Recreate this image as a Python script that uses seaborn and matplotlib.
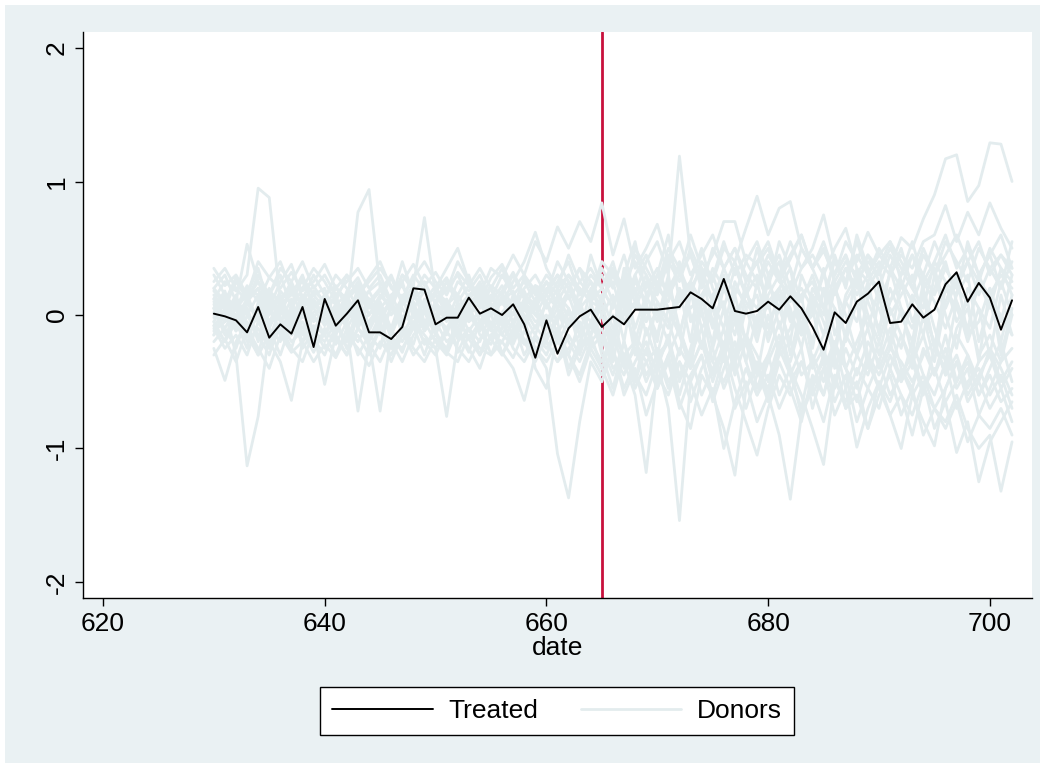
import matplotlib
matplotlib.use("Agg")
import matplotlib.pyplot as plt
from matplotlib.lines import Line2D
from matplotlib.patches import Rectangle
import numpy as np
import pandas as pd
import seaborn as sns

sns.set_theme(style="white")
plt.rcParams['font.family'] = ['Liberation Sans', 'DejaVu Sans']
plt.rcParams['axes.unicode_minus'] = False
plt.rcParams['text.color'] = 'black'
plt.rcParams['axes.labelcolor'] = 'black'
plt.rcParams['xtick.color'] = 'black'
plt.rcParams['ytick.color'] = 'black'

dates = list(range(630, 703))
treatment_date = 665

treated = [
    0.01, -0.01, -0.04, -0.13, 0.06, -0.17, -0.07, -0.14, 0.06, -0.24,
    0.12, -0.08, 0.01, 0.11, -0.13, -0.13, -0.18, -0.09, 0.20, 0.19,
    -0.07, -0.02, -0.02, 0.13, 0.01, 0.05, 0.00, 0.08, -0.07, -0.32,
    -0.04, -0.29, -0.10, -0.01, 0.04, -0.09, -0.01, -0.07, 0.04, 0.04,
    0.04, 0.05, 0.06, 0.17, 0.12, 0.05, 0.27, 0.03, 0.01, 0.03,
    0.10, 0.04, 0.14, 0.05, -0.09, -0.26, 0.02, -0.06, 0.10, 0.16,
    0.25, -0.06, -0.05, 0.08, -0.02, 0.04, 0.23, 0.32, 0.10, 0.24,
    0.13, -0.11, 0.11,
]

donors = [
    [0.12, 0.25, 0.18, 0.30, 0.95, 0.88, 0.10, 0.22, 0.05, 0.15,
     0.20, -0.05, 0.18, 0.28, 0.10, -0.08, 0.15, 0.22, 0.05, 0.18,
     0.10, 0.25, 0.08, -0.05, 0.20, 0.12, 0.30, 0.15, 0.05, 0.22,
     0.18, 0.30, 0.12, 0.25, 0.35, 0.20, 0.40, 0.10, 0.30, 0.45,
     0.22, 0.50, 0.35, 0.15, 0.40, 0.28, 0.55, 0.30, 0.45, 0.38,
     0.50, 0.25, 0.42, 0.60, 0.35, 0.48, 0.30, 0.55, 0.40, 0.62,
     0.45, 0.35, 0.58, 0.50, 0.72, 0.90, 1.17, 1.20, 0.85, 0.97,
     1.29, 1.28, 1.00],
    [-0.15, 0.05, -0.30, -1.13, -0.76, -0.10, -0.20, 0.08, -0.25, -0.12,
     0.05, -0.18, -0.30, 0.02, -0.15, -0.25, 0.10, -0.08, -0.22, 0.05,
     -0.12, -0.28, 0.00, -0.18, -0.05, -0.30, -0.10, 0.08, -0.20, -0.35,
     -0.15, -0.05, -0.40, -0.20, 0.05, -0.30, -0.55, -0.20, -0.45, -0.60,
     -0.35, -0.70, -1.54, -0.50, -0.30, -0.65, -0.40, -0.20, -0.55, -0.35,
     -0.60, -0.25, -0.45, -0.70, -0.30, -0.50, -0.20, -0.40, -0.65, -0.35,
     -0.55, -0.30, -0.50, -0.20, -0.45, -0.60, -0.35, -0.70, -0.50, -0.40,
     -0.60, -0.45, -0.70],
    [0.20, 0.10, 0.28, 0.15, 0.35, 0.05, 0.25, 0.38, 0.12, 0.30,
     0.15, 0.22, 0.05, 0.77, 0.94, 0.20, 0.10, 0.30, 0.18, 0.25,
     0.08, 0.20, 0.30, 0.12, 0.25, 0.05, 0.18, 0.32, 0.15, 0.08,
     0.25, 0.15, 0.30, 0.20, 0.10, 0.35, 0.20, 0.45, 0.15, 0.40,
     0.55, 0.30, 1.19, 0.45, 0.20, 0.50, 0.35, 0.15, 0.40, 0.55,
     0.30, 0.45, 0.20, 0.50, 0.35, 0.15, 0.40, 0.25, 0.55, 0.30,
     0.20, 0.45, 0.30, 0.55, 0.25, 0.40, 0.60, 0.35, 0.50, 0.30,
     0.45, 0.60, 0.35],
    [-0.05, -0.20, 0.10, -0.15, -0.30, 0.05, -0.12, -0.25, 0.02, -0.18,
     -0.30, -0.08, -0.20, 0.05, -0.25, -0.10, -0.35, -0.15, 0.00, -0.22,
     -0.15, 0.05, -0.28, -0.10, -0.20, 0.02, -0.30, -0.15, -0.05, -0.25,
     -0.40, -1.04, -1.37, -0.80, -0.35, -0.50, -0.25, -0.60, -0.40, -0.75,
     -0.50, -0.30, -0.65, -0.85, -0.45, -0.60, -0.30, -0.70, -0.50, -0.80,
     -0.60, -0.90, -1.38, -0.75, -0.55, -0.80, -0.45, -0.70, -0.60, -0.85,
     -0.50, -0.75, -0.60, -0.90, -0.55, -0.70, -0.85, -0.65, -0.95, -0.75,
     -0.85, -0.70, -0.90],
    [0.30, 0.15, 0.05, 0.22, 0.10, 0.28, 0.40, 0.18, 0.25, 0.08,
     0.12, 0.30, 0.20, 0.05, 0.18, 0.25, 0.10, 0.30, 0.22, 0.73,
     0.15, 0.05, 0.25, 0.18, 0.30, 0.10, 0.22, 0.05, 0.28, 0.15,
     0.30, 0.20, 0.45, 0.25, 0.15, 0.40, 0.30, 0.10, 0.50, 0.35,
     0.20, 0.45, 0.30, 0.60, 0.35, 0.25, 0.50, 0.40, 0.65, 0.89,
     0.60, 0.80, 0.85, 0.50, 0.35, 0.55, 0.30, 0.45, 0.25, 0.40,
     0.30, 0.50, 0.35, 0.20, 0.45, 0.30, 0.55, 0.40, 0.25, 0.50,
     0.35, 0.45, 0.30],
    [-0.20, -0.10, -0.25, 0.00, -0.15, -0.30, -0.05, -0.20, -0.12, -0.28,
     -0.10, -0.22, -0.05, -0.30, -0.15, -0.08, -0.25, -0.12, -0.30, -0.18,
     -0.25, -0.76, -0.20, -0.10, -0.30, -0.15, -0.05, -0.25, -0.35, -0.18,
     -0.30, -0.10, -0.45, -0.25, -0.15, -0.40, -0.60, -0.30, -0.50, -0.25,
     -0.55, -0.35, -0.70, -0.45, -0.30, -0.60, -0.85, -1.20, -0.55, -0.40,
     -0.65, -0.35, -0.55, -0.80, -0.45, -0.60, -0.30, -0.70, -0.50, -0.85,
     -0.60, -0.45, -0.75, -0.55, -0.90, -0.70, -0.80, -0.60, -0.85, -1.00,
     -0.90, -1.32, -0.95],
    [0.05, -0.15, -0.05, -0.25, 0.10, -0.10, -0.30, -0.05, -0.20, 0.00,
     -0.15, -0.30, -0.10, -0.72, -0.20, -0.05, -0.25, -0.15, -0.08, -0.30,
     -0.05, -0.20, -0.12, -0.28, -0.05, -0.18, -0.30, -0.10, -0.22, -0.08,
     -0.20, -0.35, -0.15, -0.30, -0.05, -0.25, -0.45, -0.20, -0.55, -0.35,
     -0.25, -0.50, -0.35, -0.65, -0.40, -0.25, -0.55, -0.35, -0.70, -0.45,
     -0.30, -0.60, -0.40, -0.75, -0.50, -0.35, -0.65, -0.45, -0.80, -0.55,
     -0.70, -0.40, -0.60, -0.75, -0.50, -0.85, -0.65, -1.03, -0.80, -1.25,
     -0.95, -0.80, -0.65],
    [0.10, 0.00, 0.15, -0.10, 0.05, 0.20, -0.05, 0.12, -0.15, 0.08,
     0.00, 0.15, -0.10, 0.05, -0.20, -0.72, -0.15, 0.05, -0.10, 0.12,
     -0.05, 0.10, -0.15, 0.05, -0.10, 0.15, -0.05, -0.20, 0.05, -0.10,
     0.10, -0.15, 0.05, -0.25, 0.10, -0.20, 0.00, -0.35, -0.60, -1.18,
     -0.40, -0.15, -0.50, -0.25, 0.05, -0.35, -0.10, -0.45, -0.20, -0.55,
     -0.30, -0.05, -0.40, -0.60, -0.85, -1.12, -0.50, -0.25, -0.45, -0.20,
     -0.35, -0.10, -0.40, -0.55, -0.25, -0.45, -0.15, -0.50, -0.30, -0.60,
     -0.40, -0.20, -0.50],
    [0.25, 0.35, 0.20, 0.10, 0.30, 0.15, 0.35, 0.25, 0.40, 0.20,
     0.30, 0.15, 0.25, 0.35, 0.20, 0.30, 0.10, 0.25, 0.38, 0.22,
     0.32, 0.18, 0.40, 0.25, 0.15, 0.35, 0.28, 0.45, 0.30, 0.55,
     0.40, 0.66, 0.50, 0.70, 0.55, 0.84, 0.45, 0.72, 0.35, 0.50,
     0.68, 0.40, 0.55, 0.30, 0.45, 0.60, 0.35, 0.50, 0.25, 0.40,
     0.55, 0.30, 0.45, 0.60, 0.35, 0.50, 0.25, 0.40, 0.30, 0.45,
     0.35, 0.55, 0.40, 0.25, 0.50, 0.30, 0.45, 0.60, 0.40, 0.55,
     0.30, 0.45, 0.35],
    [-0.10, -0.25, -0.15, -0.30, -0.05, -0.20, -0.35, -0.64, -0.20, -0.10,
     -0.25, -0.15, -0.30, -0.10, -0.22, -0.35, -0.15, -0.28, -0.05, -0.20,
     -0.30, -0.12, -0.25, -0.35, -0.18, -0.08, -0.28, -0.40, -0.64, -0.30,
     -0.20, -0.35, -0.25, -0.15, -0.30, -0.45, -0.25, -0.55, -0.35, -0.20,
     -0.45, -0.60, -0.35, -0.50, -0.75, -0.55, -1.00, -0.65, -0.40, -0.60,
     -0.45, -0.70, -0.50, -0.35, -0.60, -0.40, -0.75, -0.55, -0.99, -0.70,
     -0.50, -0.65, -0.40, -0.60, -0.45, -0.70, -0.55, -0.35, -0.65, -0.50,
     -0.70, -0.55, -0.80],
    [0.05, 0.18, -0.10, 0.10, -0.05, 0.15, 0.00, 0.20, 0.08, -0.12,
     -0.52, -0.15, 0.05, -0.08, 0.12, 0.00, -0.15, 0.10, 0.02, -0.10,
     0.08, -0.05, 0.15, 0.00, -0.12, 0.05, 0.18, -0.08, 0.10, 0.00,
     -0.10, 0.15, 0.05, -0.15, 0.20, 0.00, -0.20, 0.25, -0.10, 0.15,
     -0.05, 0.30, -0.15, 0.20, -0.25, 0.10, -0.35, 0.05, -0.20, 0.25,
     -0.10, 0.15, -0.30, 0.05, -0.20, 0.20, -0.40, -0.15, 0.10, -0.30,
     -0.55, -0.75, -1.00, -0.60, -0.80, -0.98, -0.55, -0.35, -0.60, -0.45,
     -0.30, -0.55, -0.40],
    [-0.25, -0.49, -0.20, -0.05, -0.30, -0.15, -0.08, -0.25, -0.35, -0.12,
     -0.20, -0.05, -0.25, -0.15, -0.30, -0.10, -0.20, -0.35, -0.15, -0.05,
     -0.20, -0.30, -0.10, -0.25, -0.40, -0.15, -0.20, -0.05, -0.30, -0.15,
     -0.25, -0.10, -0.30, -0.45, -0.20, -0.35, -0.15, -0.40, -0.25, -0.50,
     -0.30, -0.20, -0.45, -0.30, -0.60, -0.40, -0.25, -0.55, -0.80, -1.05,
     -0.70, -0.45, -0.60, -0.35, -0.55, -0.30, -0.50, -0.65, -0.40, -0.55,
     -0.35, -0.60, -0.45, -0.30, -0.55, -0.40, -0.65, -0.50, -0.35, -0.60,
     -0.45, -0.65, -0.55],
    [0.15, 0.05, 0.25, 0.12, 0.20, 0.00, 0.18, 0.08, 0.28, 0.15,
     0.05, 0.20, 0.12, 0.25, 0.08, 0.18, 0.30, 0.10, 0.22, 0.05,
     0.18, 0.28, 0.10, 0.22, 0.35, 0.20, 0.08, 0.25, 0.40, 0.62,
     0.35, 0.20, 0.30, 0.15, 0.25, 0.10, 0.35, 0.20, 0.45, 0.30,
     0.15, 0.40, 0.25, 0.50, 0.30, 0.45, 0.70, 0.70, 0.40, 0.25,
     0.45, 0.30, 0.55, 0.35, 0.50, 0.75, 0.40, 0.25, 0.45, 0.30,
     0.50, 0.35, 0.20, 0.45, 0.30, 0.55, 0.35, 0.20, 0.40, 0.25,
     0.50, 0.35, 0.25],
    [0.00, 0.12, 0.05, 0.20, 0.15, -0.05, 0.10, 0.25, 0.05, 0.18,
     0.10, 0.00, 0.15, 0.22, 0.05, 0.12, 0.28, 0.08, 0.15, 0.30,
     0.20, 0.35, 0.50, 0.25, 0.10, 0.22, 0.15, 0.30, 0.12, 0.05,
     0.20, 0.10, 0.25, 0.05, 0.15, 0.30, 0.10, 0.25, 0.40, 0.20,
     0.35, 0.15, 0.30, 0.45, 0.25, 0.10, 0.35, 0.50, 0.30, 0.20,
     0.40, 0.25, 0.15, 0.35, 0.45, 0.30, 0.50, 0.65, 0.35, 0.25,
     0.40, 0.30, 0.45, 0.35, 0.55, 0.60, 0.82, 0.55, 0.77, 0.60,
     0.84, 0.65, 0.50],
    [0.20, 0.30, 0.10, 0.53, 0.25, 0.15, 0.30, 0.05, 0.20, 0.35,
     0.25, 0.10, 0.30, 0.15, 0.28, 0.40, 0.20, 0.12, 0.30, 0.18,
     0.10, 0.25, 0.15, 0.30, 0.05, 0.20, 0.35, 0.15, 0.25, 0.10,
     0.15, 0.30, 0.20, 0.35, 0.25, 0.10, 0.30, 0.15, 0.05, 0.25,
     0.10, -0.05, 0.20, 0.05, 0.15, -0.10, 0.20, 0.00, 0.15, 0.30,
     0.10, 0.20, -0.05, 0.15, 0.25, 0.05, 0.20, 0.35, 0.15, 0.30,
     0.45, 0.55, 0.25, 0.10, 0.30, 0.15, 0.35, 0.20, 0.10, 0.25,
     0.15, 0.30, 0.20],
    [-0.08, 0.02, -0.12, 0.05, -0.18, 0.10, -0.02, -0.15, 0.08, -0.05,
     0.02, -0.10, 0.08, -0.05, 0.12, -0.15, 0.05, -0.08, 0.10, -0.12,
     0.00, -0.10, 0.05, 0.15, -0.05, 0.08, -0.15, 0.02, -0.08, 0.10,
     -0.05, 0.12, -0.10, 0.05, -0.15, 0.10, -0.25, 0.15, -0.30, 0.05,
     -0.20, 0.25, -0.10, -0.35, 0.15, -0.25, 0.05, -0.40, 0.20, -0.15,
     0.10, -0.30, 0.20, -0.15, 0.05, -0.35, 0.25, -0.20, 0.10, -0.40,
     0.15, -0.25, 0.05, -0.30, 0.20, -0.10, -0.35, 0.10, -0.20, 0.05,
     -0.30, 0.15, -0.15],
    [0.18, 0.08, -0.02, 0.12, 0.25, 0.05, 0.15, -0.05, 0.10, 0.22,
     0.08, -0.05, 0.12, 0.20, 0.00, 0.15, 0.05, 0.25, -0.02, 0.10,
     0.22, 0.05, -0.05, 0.12, 0.20, 0.00, 0.10, 0.18, -0.05, 0.12,
     0.25, 0.05, 0.18, 0.35, 0.10, 0.20, 0.05, 0.30, 0.10, -0.05,
     0.25, 0.05, -0.15, 0.20, 0.35, 0.10, -0.10, 0.25, 0.05, -0.20,
     0.15, 0.30, 0.00, -0.15, 0.20, 0.05, -0.25, 0.15, 0.30, 0.00,
     -0.20, 0.10, 0.25, -0.05, 0.15, -0.25, 0.20, 0.05, -0.15, 0.30,
     0.10, -0.20, 0.15],
    [-0.12, -0.05, 0.05, -0.20, -0.10, -0.25, 0.08, -0.15, -0.05, -0.22,
     -0.15, 0.05, -0.10, -0.20, -0.05, 0.08, -0.18, -0.25, -0.10, 0.02,
     -0.15, -0.25, -0.05, 0.08, -0.15, -0.22, 0.00, -0.10, -0.18, -0.28,
     -0.10, 0.05, -0.20, -0.35, -0.15, 0.00, -0.30, -0.45, -0.20, -0.35,
     -0.55, -0.30, -0.10, -0.40, -0.20, -0.50, -0.25, -0.05, -0.35, -0.60,
     -0.35, -0.15, -0.45, -0.25, -0.70, -0.40, -0.20, -0.55, -0.30, -0.10,
     -0.40, -0.20, -0.50, -0.35, -0.15, -0.45, -0.25, -0.55, -0.40, -0.75,
     -0.55, -0.35, -0.25],
    [0.35, 0.22, 0.30, 0.15, 0.40, 0.28, 0.20, 0.32, 0.18, 0.25,
     0.38, 0.20, 0.30, 0.15, 0.25, 0.35, 0.22, 0.12, 0.28, 0.40,
     0.25, 0.15, 0.32, 0.22, 0.10, 0.28, 0.38, 0.20, 0.30, 0.18,
     0.10, 0.25, 0.40, 0.15, 0.30, 0.20, 0.35, 0.05, 0.25, 0.10,
     0.30, 0.15, 0.05, 0.25, 0.10, 0.35, 0.20, 0.40, 0.15, 0.05,
     0.25, 0.40, 0.10, 0.20, 0.05, 0.30, 0.15, 0.35, 0.20, 0.45,
     0.25, 0.10, 0.30, 0.45, 0.20, 0.35, 0.05, 0.25, 0.40, 0.15,
     0.35, 0.20, 0.40],
    [-0.30, -0.18, -0.35, -0.10, -0.25, -0.40, -0.15, -0.28, -0.20, -0.35,
     -0.22, -0.32, -0.15, -0.25, -0.38, -0.20, -0.30, -0.10, -0.25, -0.35,
     -0.18, -0.28, -0.35, -0.15, -0.25, -0.30, -0.20, -0.32, -0.12, -0.25,
     -0.35, -0.20, -0.30, -0.50, -0.25, -0.15, -0.40, -0.30, -0.20, -0.45,
     -0.30, -0.55, -0.25, -0.40, -0.20, -0.35, -0.50, -0.30, -0.15, -0.40,
     -0.55, -0.30, -0.20, -0.45, -0.35, -0.60, -0.25, -0.40, -0.55, -0.30,
     -0.45, -0.25, -0.35, -0.50, -0.30, -0.20, -0.45, -0.30, -0.55, -0.35,
     -0.25, -0.50, -0.35],
    [0.08, -0.05, 0.12, 0.00, 0.15, -0.08, 0.05, 0.18, -0.02, 0.10,
     -0.05, 0.08, 0.15, -0.02, 0.10, 0.20, 0.00, 0.12, -0.08, 0.05,
     0.15, 0.02, -0.10, 0.08, 0.18, 0.00, 0.10, -0.05, 0.12, 0.22,
     0.05, 0.20, -0.05, 0.10, 0.25, 0.00, 0.15, -0.20, 0.30, 0.05,
     -0.15, 0.20, 0.35, 0.00, -0.25, 0.15, 0.30, -0.05, 0.20, -0.10,
     0.25, 0.05, -0.20, 0.30, 0.10, -0.15, 0.20, 0.00, -0.30, 0.15,
     0.05, -0.20, 0.25, 0.10, -0.15, 0.30, 0.00, -0.25, 0.20, 0.05,
     -0.10, 0.25, 0.00],
    [-0.05, 0.10, -0.12, 0.05, -0.20, 0.02, 0.12, -0.08, 0.15, -0.02,
     0.10, -0.12, 0.00, 0.15, -0.08, 0.05, -0.15, 0.08, 0.18, -0.05,
     0.05, -0.15, 0.10, -0.05, 0.02, -0.12, 0.15, 0.05, -0.10, 0.08,
     -0.20, 0.00, 0.15, -0.10, 0.05, -0.25, 0.10, 0.20, -0.15, -0.30,
     0.10, -0.05, -0.30, 0.15, 0.00, -0.20, 0.25, 0.05, -0.35, 0.00,
     -0.15, 0.20, 0.05, -0.25, 0.15, -0.05, -0.30, 0.10, 0.25, -0.10,
     0.20, -0.05, -0.25, 0.15, 0.00, -0.35, 0.10, 0.30, -0.15, -0.05,
     0.20, -0.30, 0.05],
    [0.02, -0.10, 0.05, 0.15, -0.05, 0.08, -0.15, 0.00, 0.10, 0.05,
     -0.08, 0.02, 0.12, -0.05, 0.00, 0.10, -0.10, 0.15, 0.05, -0.12,
     0.00, 0.12, -0.05, 0.05, 0.15, -0.08, 0.02, 0.12, 0.00, -0.15,
     0.10, -0.05, 0.20, 0.00, -0.10, 0.15, 0.25, -0.05, 0.10, 0.30,
     0.00, -0.20, 0.15, 0.25, -0.10, 0.05, -0.25, 0.20, 0.10, -0.05,
     0.30, -0.10, 0.15, 0.00, -0.25, 0.20, 0.05, -0.15, 0.35, 0.10,
     -0.10, 0.20, 0.00, -0.20, 0.25, 0.10, -0.10, 0.15, 0.30, -0.20,
     0.10, 0.00, -0.15],
    [-0.15, 0.00, -0.08, 0.10, -0.02, -0.18, 0.05, -0.10, 0.00, 0.12,
     -0.02, -0.15, 0.05, -0.10, 0.08, -0.05, 0.12, -0.15, 0.00, 0.08,
     -0.10, 0.02, -0.18, 0.00, 0.10, -0.10, -0.02, -0.15, 0.08, -0.05,
     0.00, -0.20, -0.05, 0.12, -0.20, -0.10, -0.35, 0.05, -0.20, 0.10,
     -0.30, 0.05, -0.15, -0.40, 0.10, -0.05, -0.30, 0.15, -0.20, -0.45,
     0.00, -0.25, -0.10, 0.15, -0.35, -0.15, 0.05, -0.40, -0.20, 0.00,
     -0.30, 0.05, -0.15, -0.40, 0.00, -0.20, -0.45, -0.10, 0.05, -0.30,
     -0.15, -0.35, 0.00],
    [0.12, 0.05, -0.05, 0.08, 0.00, 0.18, 0.10, -0.02, 0.15, 0.05,
     0.12, 0.00, -0.05, 0.10, 0.18, 0.02, 0.08, -0.05, 0.12, 0.20,
     -0.02, 0.08, 0.15, 0.00, 0.10, 0.20, -0.05, 0.08, 0.18, 0.00,
     0.15, 0.05, -0.10, 0.20, 0.10, 0.05, -0.15, 0.35, 0.15, -0.05,
     0.20, 0.10, 0.40, -0.05, 0.15, 0.30, 0.05, -0.15, 0.25, 0.40,
     0.05, 0.20, 0.35, -0.10, 0.15, 0.00, 0.30, 0.45, 0.05, 0.20,
     0.35, 0.00, 0.15, 0.30, -0.05, 0.20, 0.40, 0.10, -0.10, 0.25,
     0.05, 0.35, 0.15],
    [-0.02, 0.08, 0.00, -0.12, 0.05, 0.12, -0.05, 0.05, -0.10, 0.02,
     0.05, -0.05, 0.10, 0.00, -0.12, 0.05, 0.15, -0.02, 0.08, -0.08,
     0.10, -0.02, 0.05, -0.12, 0.00, 0.08, -0.08, 0.15, -0.02, 0.05,
     -0.08, 0.10, 0.00, 0.05, -0.05, 0.15, -0.10, 0.00, 0.20, -0.15,
     0.05, -0.10, 0.20, -0.20, 0.30, -0.05, 0.10, -0.30, 0.05, 0.15,
     -0.20, 0.05, 0.25, -0.10, 0.00, 0.35, -0.15, 0.10, -0.05, 0.25,
     -0.15, 0.35, 0.05, -0.10, 0.15, -0.25, 0.25, -0.05, 0.10, -0.35,
     0.20, -0.05, 0.30],
    [0.05, 0.15, -0.05, 0.10, 0.20, -0.10, 0.08, 0.15, 0.30, 0.05,
     0.15, 0.08, -0.05, 0.20, 0.12, 0.00, 0.10, 0.40, 0.15, 0.05,
     0.18, 0.10, 0.00, 0.15, 0.22, 0.05, 0.12, 0.00, 0.20, 0.30,
     0.15, 0.40, 0.25, 0.05, 0.45, 0.20, 0.05, 0.30, 0.55, 0.15,
     0.30, 0.60, 0.10, 0.25, 0.50, 0.20, 0.05, 0.35, 0.15, 0.50,
     0.20, 0.55, 0.35, 0.10, 0.30, 0.05, 0.45, 0.20, 0.60, 0.35,
     0.10, 0.30, 0.50, 0.20, 0.05, 0.40, 0.25, 0.15, 0.55, 0.30,
     0.45, 0.20, 0.55],
    [-0.08, -0.20, -0.05, -0.15, 0.00, -0.25, -0.10, 0.02, -0.20, -0.08,
     -0.15, -0.02, -0.25, -0.10, -0.18, 0.00, -0.12, -0.20, -0.05, -0.15,
     -0.25, -0.10, -0.02, -0.18, -0.30, -0.05, -0.15, -0.22, -0.02, -0.40,
     -0.55, -0.15, -0.30, -0.05, -0.25, -0.40, -0.15, -0.30, -0.50, -0.10,
     -0.35, -0.20, -0.60, -0.30, -0.10, -0.45, -0.20, -0.35, -0.15, -0.30,
     -0.50, -0.20, -0.35, -0.05, -0.40, -0.25, -0.55, -0.15, -0.30, -0.45,
     -0.20, -0.40, -0.15, -0.35, -0.60, -0.25, -0.40, -0.15, -0.30, -0.50,
     -0.25, -0.40, -0.60],
]

bg = "#EAF1F3"
donor_color = "#E3ECEE"
red = "#C8103C"

donor_df = pd.DataFrame(
    [(i, d, v) for i, row in enumerate(donors) for d, v in zip(dates, row)],
    columns=["donor", "date", "value"],
)
treated_df = pd.DataFrame({"date": dates, "value": treated})

fig = plt.figure(figsize=(10.45, 7.68), dpi=100, facecolor="white")
fig.patches.append(Rectangle((5 / 1045, 5 / 768), 1 - 10 / 1045, 1 - 10 / 768,
                             transform=fig.transFigure, facecolor=bg,
                             edgecolor="none", zorder=-10))
ax = fig.add_axes([83 / 1045, 1 - 598 / 768, (1032 - 83) / 1045, (598 - 32) / 768])
ax.set_facecolor("white")

ax.axvline(treatment_date, color=red, lw=2.0, zorder=1)
sns.lineplot(data=donor_df, x="date", y="value", units="donor", estimator=None,
             color=donor_color, lw=2.0, ax=ax, zorder=2, legend=False)
sns.lineplot(data=treated_df, x="date", y="value", color="black", lw=1.4,
             ax=ax, zorder=3, legend=False)

ax.set_xlim(618.2, 703.8)
ax.set_ylim(-2.12, 2.12)
ax.set_xticks([620, 640, 660, 680, 700])
ax.set_yticks([-2, -1, 0, 1, 2])
ax.set_xlabel("date", fontsize=19, labelpad=0)
ax.set_ylabel("")
for s in ["top", "right"]:
    ax.spines[s].set_visible(False)
for s in ["left", "bottom"]:
    ax.spines[s].set_color("black")
    ax.spines[s].set_linewidth(1.0)
ax.tick_params(axis="both", which="both", direction="out", length=6, width=1,
               color="black", labelcolor="black", labelsize=19, pad=4,
               left=True, bottom=True)
plt.setp(ax.get_yticklabels(), rotation=90, va="center")
ax.grid(False)

handles = [Line2D([], [], color="black", lw=1.4),
           Line2D([], [], color=donor_color, lw=2.0)]
leg = fig.legend(handles, ["Treated", "Donors"], loc="center",
                 bbox_to_anchor=(557 / 1045, 1 - 711 / 768), ncol=2,
                 fontsize=19, frameon=True, fancybox=False, handlelength=3.8,
                 handletextpad=0.6, columnspacing=1.6, borderpad=0.45)
leg.get_frame().set_edgecolor("black")
leg.get_frame().set_linewidth(1.0)
leg.get_frame().set_facecolor("white")
leg.get_frame().set_alpha(1)
for t in leg.get_texts():
    t.set_color("black")

fig.savefig("out.png", dpi=100, facecolor=fig.get_facecolor())
